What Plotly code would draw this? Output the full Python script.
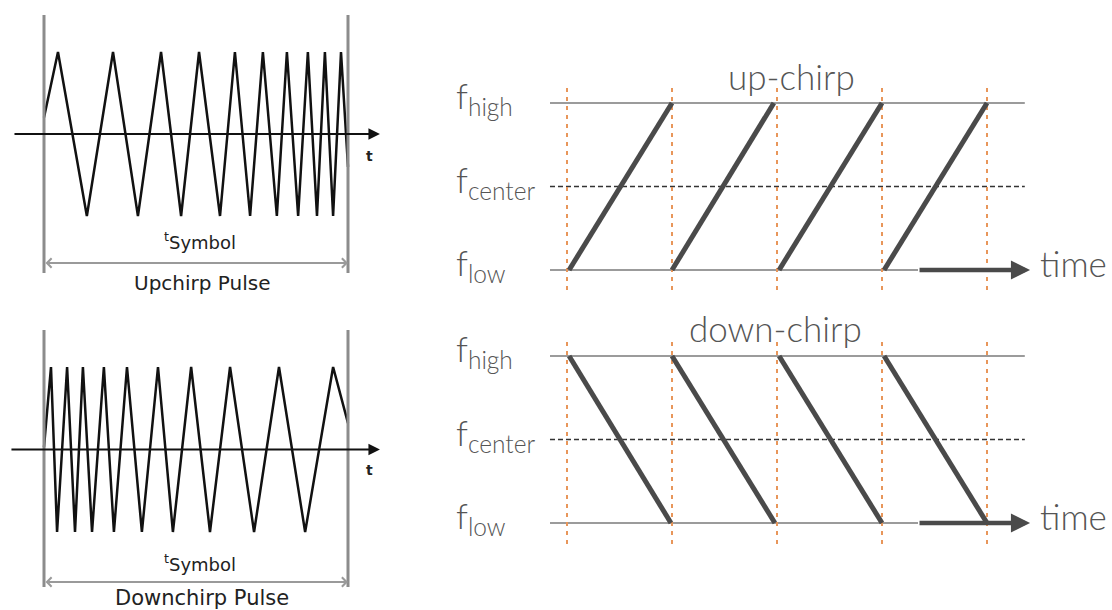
import plotly.graph_objects as go

W, H = 1112, 610

# ---------------- data: left panels (time in symbol units, amplitude -1..1)
up_peak_t = [0.046, 0.227, 0.385, 0.510, 0.628, 0.720, 0.799, 0.868, 0.924, 0.977]
up_trough_t = [0.141, 0.309, 0.451, 0.579, 0.678, 0.766, 0.836, 0.898, 0.951]
up_start_amp = 0.2
up_end_amp = -0.4

down_peak_t = [0.023, 0.076, 0.128, 0.197, 0.273, 0.375, 0.484, 0.612, 0.773, 0.951]
down_trough_t = [0.043, 0.102, 0.158, 0.230, 0.322, 0.424, 0.546, 0.691, 0.859]
down_start_amp = 0.03
down_end_amp = 0.32

# ---------------- data: right panels (time in symbols, frequency low=0 .. high=1)
symbol_bounds = [0, 1, 2, 3, 4]
up_chirp_start = [0.02, 1.0, 2.02, 3.02]
up_chirp_end = [1.0, 1.97, 3.0, 4.0]
down_chirp_start = [0.02, 1.0, 2.02, 3.02]
down_chirp_end = [0.99, 1.98, 3.0, 4.0]
freq_names = ["high", "center", "low"]
freq_values = [1.0, 0.5, 0.0]


def zigzag(peaks, troughs, a0, a1):
    pts = [(t, 1.0) for t in peaks] + [(t, -1.0) for t in troughs]
    pts.sort()
    xs = [0.0] + [p[0] for p in pts] + [1.0]
    ys = [a0] + [p[1] for p in pts] + [a1]
    return xs, ys


def xaxis_cfg(p0, p1, origin, scale):
    return dict(domain=[p0 / W, p1 / W], range=[(p0 - origin) / scale, (p1 - origin) / scale], visible=False, fixedrange=True)


def yaxis_cfg(p0, p1, origin, scale):
    return dict(domain=[1 - p1 / H, 1 - p0 / H], range=[(origin - p1) / scale, (origin - p0) / scale], visible=False, fixedrange=True)


fig = go.Figure()

LEFT_FONT = "DejaVu Sans"
RIGHT_FONT = "Lato"
annotations = []

# ---------------- left panels
left_panels = [
    dict(xa="x", ya="y", peaks=up_peak_t, troughs=up_trough_t, a0=up_start_amp, a1=up_end_amp,
         vtop=1.451, vbot=-1.695, t_lab=-0.268, sym_y=-1.305, arr_y=-1.573, cap_y=-1.817,
         caption="Upchirp Pulse", cap_size=20, ax_start=-0.102),
    dict(xa="x2", ya="y2", peaks=down_peak_t, troughs=down_trough_t, a0=down_start_amp, a1=down_end_amp,
         vtop=1.448, vbot=-1.667, t_lab=-0.248, sym_y=-1.376, arr_y=-1.606, cap_y=-1.80,
         caption="Downchirp Pulse", cap_size=21, ax_start=-0.112),
]
for p in left_panels:
    xs, ys = zigzag(p["peaks"], p["troughs"], p["a0"], p["a1"])
    fig.add_trace(go.Scatter(x=xs, y=ys, mode="lines", xaxis=p["xa"], yaxis=p["ya"],
                             line=dict(color="#111111", width=2.5), hoverinfo="skip", showlegend=False))
    fig.add_trace(go.Scatter(x=[0, 0, None, 1, 1], y=[p["vtop"], p["vbot"], None, p["vtop"], p["vbot"]],
                             mode="lines", xaxis=p["xa"], yaxis=p["ya"],
                             line=dict(color="#8c8c8c", width=3), hoverinfo="skip", showlegend=False))
    ref = dict(xref=p["xa"], yref=p["ya"])
    annotations.append(dict(**ref, axref=p["xa"], ayref=p["ya"], x=1.105, y=0, ax=p["ax_start"], ay=0,
                            text="", showarrow=True, arrowhead=2, arrowsize=1.15, arrowwidth=2,
                            arrowcolor="#111111"))
    annotations.append(dict(**ref, x=1.072, y=p["t_lab"], text="<b>t</b>", showarrow=False,
                            font=dict(family=LEFT_FONT, size=14, color="#222222")))
    annotations.append(dict(**ref, axref=p["xa"], ayref=p["ya"], x=1, y=p["arr_y"], ax=0, ay=p["arr_y"],
                            text="", showarrow=True, arrowside="end+start", arrowhead=4, startarrowhead=4,
                            arrowsize=0.9, startarrowsize=0.9, arrowwidth=2, arrowcolor="#9a9a9a"))
    annotations.append(dict(**ref, x=0.513, y=p["sym_y"], text="<sup>t</sup>Symbol", showarrow=False,
                            font=dict(family=LEFT_FONT, size=18, color="#222222")))
    annotations.append(dict(**ref, x=0.52, y=p["cap_y"], text=p["caption"], showarrow=False,
                            font=dict(family=LEFT_FONT, size=p["cap_size"], color="#222222")))

# ---------------- right panels
right_panels = [
    dict(xa="x3", ya="y3", starts=up_chirp_start, ends=up_chirp_end, f0=0.0, f1=1.0,
         otop=1.09, obot=-0.12, title="up-chirp", title_x=2.14, title_y=1.16),
    dict(xa="x4", ya="y4", starts=down_chirp_start, ends=down_chirp_end, f0=1.0, f1=0.0,
         otop=1.084, obot=-0.13, title="down-chirp", title_x=1.99, title_y=1.166),
]
LINE_L, LINE_R, ARROW_TAIL, ARROW_TIP = -0.162, 4.36, 3.343, 4.41
for p in right_panels:
    ax_kw = dict(xaxis=p["xa"], yaxis=p["ya"], hoverinfo="skip", showlegend=False, mode="lines")
    fig.add_trace(go.Scatter(x=[LINE_L, LINE_R], y=[freq_values[0]] * 2,
                             line=dict(color="#7a7a7a", width=1.5), **ax_kw))
    fig.add_trace(go.Scatter(x=[LINE_L, ARROW_TAIL], y=[freq_values[2]] * 2,
                             line=dict(color="#7a7a7a", width=1.5), **ax_kw))
    fig.add_trace(go.Scatter(x=[LINE_L, LINE_R], y=[freq_values[1]] * 2,
                             line=dict(color="#333333", width=1.3, dash="5px,3px"), **ax_kw))
    ox, oy = [], []
    for b in symbol_bounds:
        ox += [b, b, None]
        oy += [p["otop"], p["obot"], None]
    fig.add_trace(go.Scatter(x=ox, y=oy, line=dict(color="#e8965a", width=2, dash="4px,5px"), **ax_kw))
    cx, cy = [], []
    for s, e in zip(p["starts"], p["ends"]):
        cx += [s, e, None]
        cy += [p["f0"], p["f1"], None]
    fig.add_trace(go.Scatter(x=cx, y=cy, line=dict(color="#4a4a4a", width=5), **ax_kw))

    ref = dict(xref=p["xa"], yref=p["ya"])
    annotations.append(dict(**ref, axref=p["xa"], ayref=p["ya"], x=ARROW_TIP, y=0, ax=ARROW_TAIL, ay=0,
                            text="", showarrow=True, arrowhead=2, arrowsize=0.85, arrowwidth=4.5,
                            arrowcolor="#4a4a4a"))
    annotations.append(dict(**ref, x=4.486, y=0.04, xanchor="left", text="time", showarrow=False,
                            font=dict(family=RIGHT_FONT, size=35, color="#555555", weight=300)))
    annotations.append(dict(**ref, x=p["title_x"], y=p["title_y"], text=p["title"], showarrow=False,
                            font=dict(family=RIGHT_FONT, size=35, color="#555555", weight=300)))
    for name, val in zip(freq_names, freq_values):
        annotations.append(dict(**ref, x=-1.075, y=val + 0.03, xanchor="left", yanchor="middle",
                                text=f"f<sub>{name}</sub>", showarrow=False,
                                font=dict(family=RIGHT_FONT, size=35, color="#555555", weight=300)))

fig.update_layout(
    width=W, height=H,
    margin=dict(l=0, r=0, t=0, b=0),
    paper_bgcolor="white", plot_bgcolor="white",
    showlegend=False,
    xaxis=dict(**xaxis_cfg(0, 420, 44, 304), anchor="y"),
    yaxis=dict(**yaxis_cfg(0, 300, 134, 82), anchor="x"),
    xaxis2=dict(**xaxis_cfg(0, 420, 44, 304), anchor="y2"),
    yaxis2=dict(**yaxis_cfg(300, 610, 449.5, 82.5), anchor="x2"),
    xaxis3=dict(**xaxis_cfg(430, 1112, 567, 105), anchor="y3"),
    yaxis3=dict(**yaxis_cfg(0, 300, 270, 167), anchor="x3"),
    xaxis4=dict(**xaxis_cfg(430, 1112, 567, 105), anchor="y4"),
    yaxis4=dict(**yaxis_cfg(300, 610, 523, 167), anchor="x4"),
    annotations=annotations,
)

fig.write_html("out.html", config={"displayModeBar": False},
               post_script="document.body.style.margin='0';document.body.style.overflow='hidden';")
